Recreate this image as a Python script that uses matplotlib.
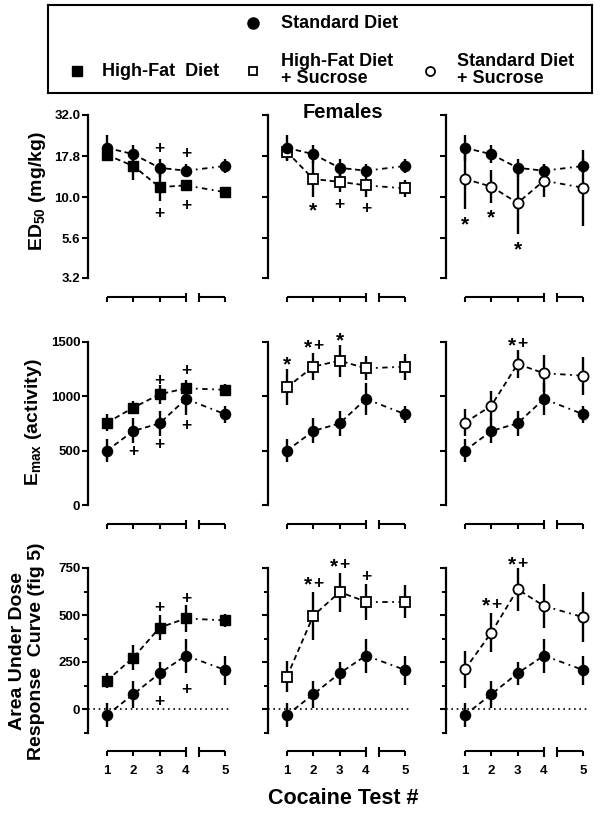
import matplotlib
matplotlib.use('Agg')
import matplotlib.pyplot as plt
import numpy as np

plt.rcParams['font.family'] = ['Liberation Sans', 'DejaVu Sans']
plt.rcParams['font.weight'] = 'bold'
plt.rcParams['mathtext.fontset'] = 'custom'
plt.rcParams['mathtext.rm'] = 'Liberation Sans:bold'
plt.rcParams['mathtext.it'] = 'Liberation Sans:bold'
plt.rcParams['mathtext.bf'] = 'Liberation Sans:bold'
plt.rcParams['mathtext.default'] = 'rm'

# ---------------- data ----------------
tests = [1, 2, 3, 4, 5]
test_labels = ['1', '2', '3', '4', '5']

# ED50 (mg/kg); error as half-width in log10 units
ed50_std = [20.0, 18.3, 15.1, 14.5, 15.5]
ed50_std_err = [0.078, 0.055, 0.057, 0.040, 0.044]
ed50_hf = [18.1, 15.5, 11.5, 11.8, 10.7]
ed50_hf_err = [0.030, 0.086, 0.082, 0.031, 0.025]
ed50_hfs = [18.9, 12.9, 12.4, 11.8, 11.3]
ed50_hfs_err = [0.050, 0.110, 0.061, 0.070, 0.053]
ed50_sds = [12.9, 11.6, 9.2, 12.6, 11.4]
ed50_sds_err = [0.182, 0.100, 0.188, 0.098, 0.231]

# Emax (activity)
emax_std = [499, 680, 750, 974, 833]
emax_std_err = [107, 115, 113, 150, 80]
emax_hf = [756, 894, 1017, 1072, 1058]
emax_hf_err = [80, 57, 85, 77, 50]
emax_hfs = [1081, 1271, 1326, 1255, 1271]
emax_hfs_err = [164, 122, 148, 110, 119]
emax_sds = [756, 912, 1295, 1210, 1188]
emax_sds_err = [125, 133, 133, 168, 176]

# Area under dose response curve
auc_std = [-32, 78, 190, 284, 207]
auc_std_err = [64, 71, 62, 91, 77]
auc_hf = [151, 273, 433, 482, 471]
auc_hf_err = [38, 66, 66, 71, 35]
auc_hfs = [172, 496, 622, 571, 571]
auc_hfs_err = [84, 127, 104, 96, 89]
auc_sds = [211, 406, 637, 548, 488]
auc_sds_err = [100, 102, 115, 117, 133]

# significance marks: (test, y, symbol)
ed50_marks = [[(3, 19.9, '+'), (4, 18.6, '+'), (3, 7.96, '+'), (4, 8.9, '+')],
              [(2, 8.5, '*'), (3, 9.0, '+'), (4, 8.5, '+')],
              [(1, 7.0, '*'), (2, 7.7, '*'), (3, 4.9, '*')]]
emax_marks = [[(2, 490, '+'), (3, 1148, '+'), (3, 558, '+'), (4, 1234, '+'), (4, 732, '+')],
              [(1, 1302, '*'), (2, 1461, '*+'), (3, 1531, '*')],
              [(3, 1485, '*+')]]
auc_marks = [[(3, 541, '+'), (4, 589, '+'), (3, 39, '+'), (4, 105, '+')],
             [(2, 669, '*+'), (3, 766, '*+'), (4, 707, '+')],
             [(2, 558, '*+'), (3, 775, '*+')]]

ed50_ticks = [3.2, 5.6, 10.0, 17.8, 32.0]
ed50_ticklabels = ['3.2', '5.6', '10.0', '17.8', '32.0']
emax_ticks = [0, 500, 1000, 1500]
auc_ticks = [0, 250, 500, 750]

# ---------------- layout ----------------
W, H = 603, 814
fig = plt.figure(figsize=(W / 100, H / 100), dpi=100)

GAP = 0.5
pos = np.array([t + (GAP if t == 5 else 0) for t in tests], dtype=float)
XLIM = (0.28, 5.75)
UNIT = 26.33
col_left = [88, 268, 446]
row_top = [114.5, 341.7, 568.0]
row_bot = [278.0, 505.0, 732.5]
panel_w = (XLIM[1] - XLIM[0]) * UNIT


def rect(l, t, w, h):
    return [l / W, 1 - (t + h) / H, w / W, h / H]


series_style = {
    'std': dict(marker='o', mfc='black', mec='black', ms=7.3),
    'hf': dict(marker='s', mfc='black', mec='black', ms=6.6),
    'hfs': dict(marker='s', mfc='white', mec='black', ms=6.6, mew=1.3),
    'sds': dict(marker='o', mfc='white', mec='black', ms=7.3, mew=1.3),
}

rows = [
    dict(std=(ed50_std, ed50_std_err),
         others=[('hf', ed50_hf, ed50_hf_err), ('hfs', ed50_hfs, ed50_hfs_err), ('sds', ed50_sds, ed50_sds_err)],
         log=True, ylim=(3.2, 32.0), ticks=ed50_ticks, labels=ed50_ticklabels, marks=ed50_marks),
    dict(std=(emax_std, emax_std_err),
         others=[('hf', emax_hf, emax_hf_err), ('hfs', emax_hfs, emax_hfs_err), ('sds', emax_sds, emax_sds_err)],
         log=False, ylim=(0, 1500), ticks=emax_ticks, labels=[str(t) for t in emax_ticks], marks=emax_marks),
    dict(std=(auc_std, auc_std_err),
         others=[('hf', auc_hf, auc_hf_err), ('hfs', auc_hfs, auc_hfs_err), ('sds', auc_sds, auc_sds_err)],
         log=False, ylim=(-125, 750), ticks=auc_ticks, labels=[str(t) for t in auc_ticks], marks=auc_marks),
]


def draw_series(ax, vals, err, key, log):
    vals = np.asarray(vals, float)
    err = np.asarray(err, float)
    if log:
        lo = vals - vals / 10 ** err
        hi = vals * 10 ** err - vals
        yerr = [lo, hi]
    else:
        yerr = err
    ax.errorbar(pos, vals, yerr=yerr, fmt='none', ecolor='black', elinewidth=1.7, capsize=0, zorder=2)
    ax.plot(pos[:4], vals[:4], color='black', lw=1.3, ls=(0, (3, 2)), zorder=1)
    ax.plot(pos[3:], vals[3:], color='black', lw=1.3, ls=(0, (3, 2.5, 1, 2.5)), zorder=1)
    ax.plot(pos, vals, ls='none', zorder=3, **series_style[key])


def draw_mark(ax, x, y, s):
    n = len(s)
    for i, ch in enumerate(s):
        dx = (i - (n - 1) / 2) * 7.5
        fs = 15 if ch == '*' else 12.5
        dy = -1.5 if ch == '*' else 0
        ax.annotate(ch, (x, y), xytext=(dx, dy), textcoords='offset points',
                    ha='center', va='center', fontsize=fs, fontweight='bold',
                    zorder=4, annotation_clip=False)


for r, row in enumerate(rows):
    for c in range(3):
        ax = fig.add_axes(rect(col_left[c], row_top[r], panel_w, row_bot[r] - row_top[r]))
        ax.set_facecolor('none')
        if row['log']:
            ax.set_yscale('log')
        ax.set_xlim(*XLIM)
        ax.set_ylim(*row['ylim'])
        for s in ['top', 'right', 'bottom']:
            ax.spines[s].set_visible(False)
        ax.spines['left'].set_linewidth(1.6)
        ax.set_xticks([])
        ax.minorticks_off()
        ax.set_yticks(row['ticks'])
        if c == 0:
            ax.set_yticklabels(row['labels'])
        else:
            ax.set_yticklabels([])
        if r == 2:
            ax.set_yticks([-125, 125, 375, 625], minor=True)
            ax.tick_params(axis='y', which='minor', length=3, width=1.4)
            ax.axhline(0, color='black', lw=1.2, ls=(0, (1, 2.2)), zorder=0)
        ax.tick_params(axis='y', which='major', length=4, width=1.5, labelsize=9.5, pad=1.5)

        std_v, std_e = row['std']
        key, ov, oe = row['others'][c]
        draw_series(ax, ov, oe, key, row['log'])
        draw_series(ax, std_v, std_e, 'std', row['log'])

        for (t, y, s) in row['marks'][c]:
            draw_mark(ax, pos[tests.index(t)], y, s)

        # bracket x-axis below panel
        by = row_bot[r] + 18.5
        axb = fig.add_axes(rect(col_left[c], by - 6, panel_w, 12))
        axb.set_xlim(*XLIM)
        axb.set_ylim(-1, 1)
        axb.set_facecolor('none')
        for s in axb.spines.values():
            s.set_visible(False)
        axb.set_yticks([])
        axb.plot([pos[0], pos[3]], [0, 0], color='black', lw=1.5, solid_capstyle='butt')
        axb.plot([pos[4] - 1, pos[4]], [0, 0], color='black', lw=1.5, solid_capstyle='butt')
        axb.vlines(pos[[0, 1, 2, 4]], -0.85, 0, color='black', lw=1.5)
        axb.vlines([pos[3], pos[4] - 1], -0.95, 0.65, color='black', lw=1.5)
        if r == 2:
            axb.set_xticks(pos)
            axb.set_xticklabels(test_labels)
            axb.tick_params(axis='x', length=0, pad=6, labelsize=9.5)
        else:
            axb.set_xticks([])

# y labels
fig.text(37 / W, 1 - 191 / H, 'ED$_{50}$ (mg/kg)', rotation=90, ha='center', va='center', fontsize=14)
fig.text(33 / W, 1 - 422 / H, 'E$_{max}$ (activity)', rotation=90, ha='center', va='center', fontsize=14)
fig.text(27 / W, 1 - 651 / H, 'Area Under Dose\nResponse  Curve (fig 5)', rotation=90, ha='center',
         va='center', fontsize=14, linespacing=1.2, multialignment='center')
fig.text(343 / W, 1 - 798 / H, 'Cocaine Test #', ha='center', va='center', fontsize=15.5)
fig.text(343 / W, 1 - 113 / H, 'Females', ha='center', va='center', fontsize=14.5)

# legend box
LB = (48, 5, 544, 88)
axl = fig.add_axes(rect(*LB))
axl.set_xlim(0, 1)
axl.set_ylim(0, 1)
axl.set_xticks([])
axl.set_yticks([])
for s in axl.spines.values():
    s.set_linewidth(1.5)


def lx(px):
    return (px - LB[0]) / LB[2]


def ly(py):
    return (LB[1] + LB[3] - py) / LB[3]


leg_items = [
    ('std', 253, 23, 'Standard Diet', 281, 23),
    ('hf', 77, 71, 'High-Fat  Diet', 102, 71),
    ('hfs', 253, 71, 'High-Fat Diet\n+ Sucrose', 281, 70),
    ('sds', 430, 71, 'Standard Diet\n+ Sucrose', 457, 70),
]
leg_ms = {'std': 8.0, 'hf': 7.0, 'hfs': 6.3, 'sds': 6.5}
for key, mx, my, txt, tx, ty in leg_items:
    st = dict(series_style[key])
    st['ms'] = leg_ms[key]
    axl.plot([lx(mx)], [ly(my)], ls='none', **st)
    axl.text(lx(tx), ly(ty), txt, ha='left', va='center', fontsize=13, linespacing=1.0)

fig.savefig('out.png', dpi=100)
